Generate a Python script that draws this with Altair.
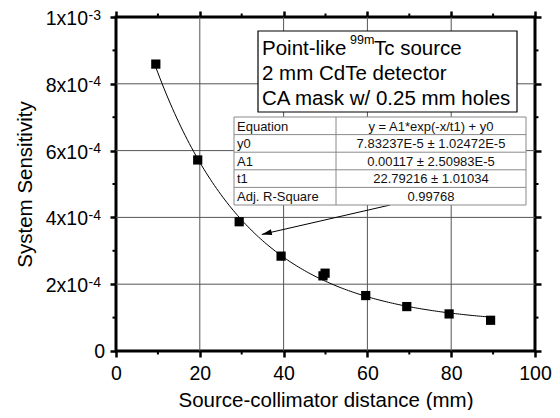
import math
import altair as alt
import pandas as pd

FONT = "Liberation Sans"

# ---- data ----
distance = [9.5, 19.5, 29.4, 39.4, 49.4, 49.9, 59.6, 69.4, 79.5, 89.4]
sensitivity = [8.59e-4, 5.72e-4, 3.87e-4, 2.84e-4, 2.25e-4, 2.33e-4, 1.66e-4, 1.33e-4, 1.11e-4, 0.92e-4]

# fit parameters printed in the chart's table
fit_y0 = 7.83237e-5
fit_A1 = 0.00117
fit_t1 = 22.79216
fit_start, fit_stop = 9.5, 89.4

x_major = [0, 20, 40, 60, 80, 100]
x_minor = [10, 30, 50, 70, 90]
x_grid = [20, 40, 60, 80]
y_major = [0, 2e-4, 4e-4, 6e-4, 8e-4, 1e-3]
y_minor = [1e-4, 3e-4, 5e-4, 7e-4, 9e-4]
y_grid = [2e-4, 4e-4, 6e-4, 8e-4]
y_label_main = ["0", "2x10", "4x10", "6x10", "8x10", "1x10"]
y_label_exp = ["", "-4", "-4", "-4", "-4", "-3"]

table_param = ["Equation", "y0", "A1", "t1", "Adj. R-Square"]
table_value = ["y = A1*exp(-x/t1) + y0", "7.83237E-5 \u00b1 1.02472E-5",
               "0.00117 \u00b1 2.50983E-5", "22.79216 \u00b1 1.01034", "0.99768"]

box_line1 = ["Point-like ", "99m", "Tc source"]
box_lines = ["2 mm CdTe detector", "CA mask w/ 0.25 mm holes"]

arrow_x = [65.4, 34.8]
arrow_y = [4.37e-4, 3.49e-4]

# ---- layout ----
W, H = 419, 334
xs = alt.Scale(domain=[0, 100], nice=False, zero=False)
ys = alt.Scale(domain=[0, 1e-3], nice=False, zero=False)

pts = pd.DataFrame({"x": distance, "y": sensitivity})
one = pd.DataFrame({"a": [0]})

# grid lines
vgrid = alt.Chart(pd.DataFrame({"v": x_grid})).mark_rule(color="#555", strokeWidth=1).encode(
    x=alt.X("v:Q", scale=xs, axis=None), y=alt.value(0), y2=alt.value(H))
hgrid = alt.Chart(pd.DataFrame({"v": y_grid})).mark_rule(color="#555", strokeWidth=1).encode(
    y=alt.Y("v:Q", scale=ys, axis=None), x=alt.value(0), x2=alt.value(W))

# fit curve
curve = alt.Chart(alt.sequence(fit_start, fit_stop + 0.01, 0.5, as_="x")).transform_calculate(
    y=f"{fit_A1}*exp(-datum.x/{fit_t1}) + {fit_y0}"
).mark_line(color="black", strokeWidth=1).encode(
    x=alt.X("x:Q", scale=xs, axis=None), y=alt.Y("y:Q", scale=ys, axis=None))

# data points with main axes (bottom/left)
points = alt.Chart(pts).mark_square(size=85, color="black", opacity=1).encode(
    x=alt.X("x:Q", scale=xs, axis=alt.Axis(
        orient="bottom", values=x_major, grid=False, domain=False, ticks=True,
        tickSize=6, tickWidth=2.5, tickColor="black",
        labelFont=FONT, labelFontSize=19.5, labelColor="black", labelBaseline="alphabetic",
        labelPadding=22, labelFlush=False, labelOverlap=False,
        title="Source-collimator distance (mm)", titleFont=FONT, titleFontSize=20.5,
        titleFontWeight="normal", titleColor="black", titleBaseline="alphabetic",
        titleY=55, titleX=W / 2, titleAlign="center")),
    y=alt.Y("y:Q", scale=ys, axis=alt.Axis(
        orient="left", values=y_major, grid=False, domain=False, ticks=True,
        tickSize=6, tickWidth=2.5, tickColor="black", labels=False,
        title="System Sensitivity", titleFont=FONT, titleFontSize=20.5,
        titleFontWeight="normal", titleColor="black", titleAngle=270,
        titleAlign="center", titleBaseline="middle", titleX=-91, titleY=H / 2)))

# top/right axes (ticks only)
mirror = alt.Chart(pts).mark_point(opacity=0).encode(
    x=alt.X("x:Q", scale=xs, axis=alt.Axis(
        orient="top", values=x_major, grid=False, domain=False, labels=False,
        tickSize=6, tickWidth=2.5, tickColor="black", title=None)),
    y=alt.Y("y:Q", scale=ys, axis=alt.Axis(
        orient="right", values=y_major, grid=False, domain=False, labels=False,
        tickSize=6, tickWidth=2.5, tickColor="black", title=None)))

# minor ticks
xm = pd.DataFrame({"v": x_minor})
ym = pd.DataFrame({"v": y_minor})
minor_b = alt.Chart(xm).mark_rule(color="black", strokeWidth=2).encode(
    x=alt.X("v:Q", scale=xs, axis=None), y=alt.value(H), y2=alt.value(H + 3.5))
minor_t = alt.Chart(xm).mark_rule(color="black", strokeWidth=2).encode(
    x=alt.X("v:Q", scale=xs, axis=None), y=alt.value(-3.5), y2=alt.value(0))
minor_l = alt.Chart(ym).mark_rule(color="black", strokeWidth=2).encode(
    y=alt.Y("v:Q", scale=ys, axis=None), x=alt.value(-3.5), x2=alt.value(0))
minor_r = alt.Chart(ym).mark_rule(color="black", strokeWidth=2).encode(
    y=alt.Y("v:Q", scale=ys, axis=None), x=alt.value(W), x2=alt.value(W + 3.5))

# y tick labels with superscript exponents
ylab = pd.DataFrame({"v": y_major, "m": y_label_main, "e": y_label_exp})
ylab_main = alt.Chart(ylab).transform_filter("datum.e != ''").mark_text(
    font=FONT, fontSize=19.5, align="right", baseline="alphabetic", dy=8, color="black").encode(
    y=alt.Y("v:Q", scale=ys, axis=None), x=alt.value(-28), text="m:N")
ylab_zero = alt.Chart(ylab).transform_filter("datum.e == ''").mark_text(
    font=FONT, fontSize=19.5, align="right", baseline="alphabetic", dy=7, color="black").encode(
    y=alt.Y("v:Q", scale=ys, axis=None), x=alt.value(-11), text="m:N")
ylab_exp = alt.Chart(ylab).transform_filter("datum.e != ''").mark_text(
    font=FONT, fontSize=14, align="left", baseline="alphabetic", dy=2.5, color="black").encode(
    y=alt.Y("v:Q", scale=ys, axis=None), x=alt.value(-27.5), text="e:N")

# arrow from the table to the curve
arr = pd.DataFrame({"x": arrow_x, "y": arrow_y, "o": [0, 1]})
arrow_line = alt.Chart(arr).mark_line(color="black", strokeWidth=1).encode(
    x=alt.X("x:Q", scale=xs, axis=None), y=alt.Y("y:Q", scale=ys, axis=None), order="o:Q")
dxp = (arrow_x[0] - arrow_x[1]) * W / 100
dyp = (arrow_y[0] - arrow_y[1]) * H / 1e-3
head_angle = (-math.degrees(math.atan2(dyp, dxp))) % 360
arrow_head = alt.Chart(arr.iloc[[1]]).mark_point(
    shape="M0,0 L2,-0.6 L2,0.6 Z", size=100, filled=True, color="black", opacity=1,
    angle=head_angle).encode(
    x=alt.X("x:Q", scale=xs, axis=None), y=alt.Y("y:Q", scale=ys, axis=None))

# annotation box
BX0, BX1, BY0, BY1 = 142, 401, 14, 95
box = alt.Chart(one).mark_rect(fill="white", stroke="black", strokeWidth=1.2).encode(
    x=alt.value(BX0), x2=alt.value(BX1), y=alt.value(BY0), y2=alt.value(BY1))
TX = 146
fs_box = 20.5
w_part1 = 88.0
w_sup = 24.0
t1 = alt.Chart(one).mark_text(text=box_line1[0], font=FONT, fontSize=fs_box, align="left",
                              baseline="alphabetic", color="black").encode(
    x=alt.value(TX), y=alt.value(38))
t1s = alt.Chart(one).mark_text(text=box_line1[1], font=FONT, fontSize=12.5, align="left",
                               baseline="alphabetic", color="black").encode(
    x=alt.value(TX + w_part1), y=alt.value(27))
t1b = alt.Chart(one).mark_text(text=box_line1[2], font=FONT, fontSize=fs_box, align="left",
                               baseline="alphabetic", color="black").encode(
    x=alt.value(TX + w_part1 + w_sup), y=alt.value(38))
t23 = alt.Chart(pd.DataFrame({"t": box_lines, "i": [1, 2]})).transform_calculate(
    py="38 + 25*datum.i").mark_text(font=FONT, fontSize=fs_box, align="left",
                                    baseline="alphabetic", color="black").encode(
    x=alt.value(TX), y=alt.Y("py:Q", scale=None), text="t:N")

# parameter table
TBX0, TBX1, TBXC, TBY0, ROWH = 118, 410, 220, 100, 17.6
tbl = pd.DataFrame({"p": table_param, "v": table_value, "i": list(range(len(table_param)))})
table_bg = alt.Chart(one).mark_rect(fill="white", stroke="#8a8a8a", strokeWidth=1).encode(
    x=alt.value(TBX0), x2=alt.value(TBX1), y=alt.value(TBY0),
    y2=alt.value(TBY0 + ROWH * len(table_param)))
table_rows = alt.Chart(tbl).transform_filter("datum.i > 0").transform_calculate(
    py=f"{TBY0} + {ROWH}*datum.i").mark_rule(color="#8a8a8a", strokeWidth=1).encode(
    y=alt.Y("py:Q", scale=None), x=alt.value(TBX0), x2=alt.value(TBX1))
table_col = alt.Chart(one).mark_rule(color="#8a8a8a", strokeWidth=1).encode(
    x=alt.value(TBXC), y=alt.value(TBY0), y2=alt.value(TBY0 + ROWH * len(table_param)))
table_p = alt.Chart(tbl).transform_calculate(py=f"{TBY0} + {ROWH}*datum.i + 13.5").mark_text(
    font=FONT, fontSize=13, align="left", baseline="alphabetic", color="#111").encode(
    x=alt.value(TBX0 + 3), y=alt.Y("py:Q", scale=None), text="p:N")
table_v = alt.Chart(tbl).transform_calculate(py=f"{TBY0} + {ROWH}*datum.i + 13.5").mark_text(
    font=FONT, fontSize=13, align="center", baseline="alphabetic", color="#111").encode(
    x=alt.value((TBXC + TBX1) / 2), y=alt.Y("py:Q", scale=None), text="v:N")

chart = alt.layer(
    vgrid, hgrid, curve, points, mirror, minor_b, minor_t, minor_l, minor_r,
    ylab_main, ylab_zero, ylab_exp, arrow_line, arrow_head,
    box, t1, t1s, t1b, t23,
    table_bg, table_rows, table_col, table_p, table_v,
).properties(
    width=W, height=H,
    padding={"left": 108, "top": 9, "right": 17, "bottom": 59},
    autosize=alt.AutoSizeParams(type="none"),
    background="white",
).configure_view(stroke="black", strokeWidth=3)

chart.save("out.html", embed_options={"renderer": "svg", "actions": False})
